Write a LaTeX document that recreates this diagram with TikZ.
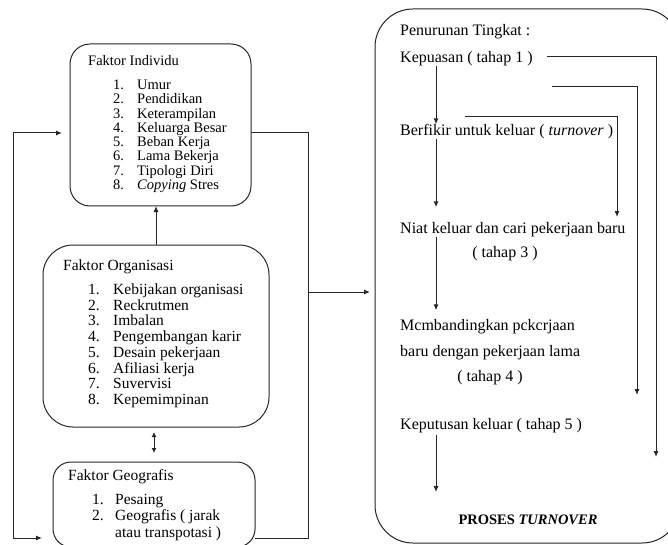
\documentclass[tikz,border=0pt]{standalone}
\usepackage{fontspec}
\setmainfont{Liberation Serif}
\usetikzlibrary{arrows.meta,calc}
\newcommand\fInd{\fontsize{14.5}{14.3}\selectfont}
\newcommand\fOrg{\fontsize{15.5}{15.7}\selectfont}
\newcommand\fBig{\fontsize{16}{17}\selectfont}
\tikzset{
  ln/.style={line width=1pt, draw=black!85},
  arr/.style={ln, -{Latex[length=6pt,width=5pt]}},
  dbl/.style={ln, {Latex[length=5pt,width=5pt]}-{Latex[length=5pt,width=5pt]}},
  rbox/.style={ln, rectangle, rounded corners=#1, outer sep=0pt, inner sep=0pt, anchor=north west},
  txt/.style={inner sep=0pt, anchor=west, text height=0.7em, text depth=0.2em},
}
\begin{document}
\begin{tikzpicture}[x=1pt,y=-1pt]
\useasboundingbox (0,0) rectangle (668,545);
% boxes
\node[rbox=20pt, minimum width=181pt, minimum height=162pt] (indbox) at (70,44) {};
\node[rbox=30pt, minimum width=226pt, minimum height=182pt] (orgbox) at (43,245) {};
\node[rbox=18pt, minimum width=202pt, minimum height=85pt] (geobox) at (53,462) {};
\node[rbox=38pt, minimum width=305pt, minimum height=534pt] (bigbox) at (375,9) {};
% Individu texts
\node[txt, font=\fInd] (indh) at (88,63) {Faktor Individu};
\foreach \t [count=\i] in {Umur, Pendidikan, Keterampilan, Keluarga Besar, Beban Kerja, Lama Bekerja, Tipologi Diri, {\textit{Copying} Stres}}
  \node[txt, font=\fInd] (ind\i) at (113,{87+14.3*(\i-1)}) {\makebox[24pt][l]{\i.}\t};
% Organisasi texts
\node[txt, font=\fOrg] (orgh) at (63,268) {Faktor Organisasi};
\foreach \t [count=\i] in {Kebijakan organisasi, Reckrutmen, Imbalan, Pengembangan karir, Desain pekerjaan, Afiliasi kerja, Suvervisi, Kepemimpinan}
  \node[txt, font=\fOrg] (org\i) at (88,{292+15.7*(\i-1)}) {\makebox[25pt][l]{\i.}\t};
% Geografis texts
\node[txt, font=\fOrg] (geoh) at (68,478) {Faktor Geografis};
\node[txt, font=\fOrg] (geo1) at (92,502) {\makebox[23pt][l]{1.}Pesaing};
\node[txt, font=\fOrg] (geo2) at (92,518) {\makebox[23pt][l]{2.}Geografis ( jarak};
\node[txt, font=\fOrg] (geo3) at (115,535) {atau transpotasi )};
% Big box texts
\node[txt, font=\fBig] (pen) at (400,33) {Penurunan Tingkat :};
\node[txt, font=\fBig] (kep) at (400,60) {Kepuasan ( tahap 1 )};
\node[txt, font=\fBig] (berf) at (400,133) {Berfikir untuk keluar ( \textit{turnover} )};
\node[txt, font=\fBig] (niat) at (400,231) {Niat keluar dan cari pekerjaan baru};
\node[txt, font=\fBig, anchor=center] (th3) at (505,255) {( tahap 3 )};
\node[txt, font=\fBig] (memb) at (400,328) {Mcmbandingkan pckcrjaan};
\node[txt, font=\fBig] (memb2) at (400,354) {baru dengan pekerjaan lama};
\node[txt, font=\fBig, anchor=center] (th4) at (490,379) {( tahap 4 )};
\node[txt, font=\fBig] (kel) at (400,427) {Keputusan keluar ( tahap 5 )};
\node[txt, font=\bfseries\fontsize{14.5}{16}\selectfont, anchor=center] (proses) at (528,522) {PROSES \textit{TURNOVER}};
% coordinates
\coordinate (lt) at (13,133);
\coordinate (lb) at (13,538);
\coordinate (rt) at (308,133);
\coordinate (rb) at (308,538);
\coordinate (rm) at (308,292);
\coordinate (d1) at (154,432);
\coordinate (d2) at (154,453);
\coordinate (t1) at (656,457);
\coordinate (s2) at (552,87);
\coordinate (t2) at (637,395);
\coordinate (s3) at (465,117);
\coordinate (t3) at (617,217);
\coordinate (e5) at (436,492);
% left side connectors
\draw[arr] (orgbox.north) -- (orgbox.north |- indbox.south);
\draw[arr, shorten >=8pt] (lb) -- (lt) -- (indbox.west |- lt);
\draw[arr, shorten >=11pt] (lt) -- (lb) -- (geobox.west |- lb);
\draw[ln] (indbox.east |- rt) -- (rt) -- (rb) -- (geobox.east |- rb);
\draw[arr, shorten >=5pt] (rm) -- (bigbox.west |- rm);
\draw[dbl] (d1) -- (d2);
% big box connectors
\draw[arr] ([xshift=36pt,yshift=-1pt]kep.south west) -- ([xshift=36pt,yshift=4pt]berf.north west);
\draw[arr] ([xshift=36pt,yshift=-1pt]berf.south west) -- ([xshift=36pt,yshift=19pt]niat.north west);
\draw[arr] ([xshift=36pt,yshift=-1pt]niat.south west) -- ([xshift=36pt,yshift=13pt]memb.north west);
\draw[arr] ([xshift=36pt,yshift=-3pt]kel.south west) -- (e5);
\draw[arr] ([xshift=14pt,yshift=3pt]kep.east) -| (t1);
\draw[arr] (s2) -| (t2);
\draw[arr] (s3) -| (t3);
\end{tikzpicture}
\end{document}
